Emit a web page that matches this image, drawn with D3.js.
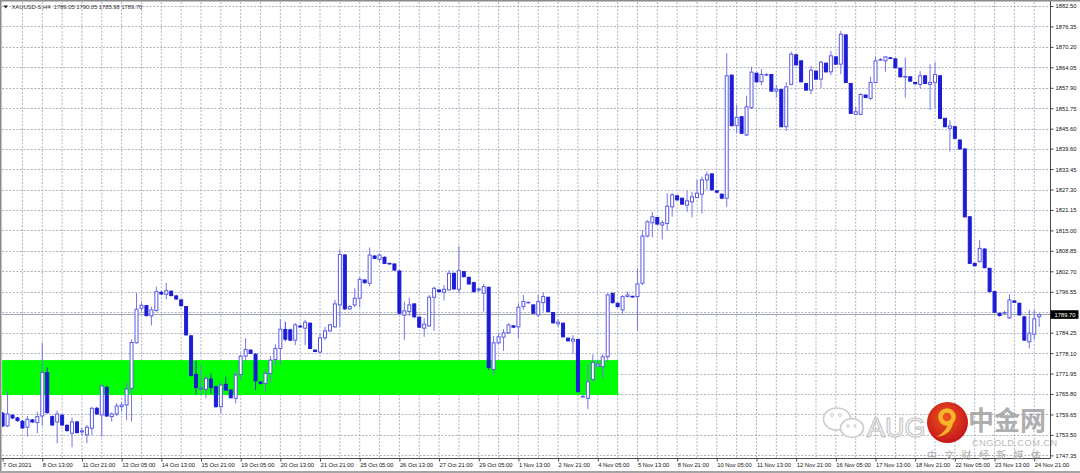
<!DOCTYPE html>
<html><head><meta charset="utf-8">
<script src="https://cdn.jsdelivr.net/npm/d3@7"></script>
<style>html,body{margin:0;padding:0;background:#fff;overflow:hidden}svg{display:block}</style>
</head><body>
<svg id="c" width="1080" height="473"></svg>
<script>
// ---------------- DATA ----------------
const symbolTitle = "XAUUSD-S,H4  1789.05 1790.05 1785.98 1789.70";
const timeLabels = ["7 Oct 2021","8 Oct 13:00","11 Oct 21:00","13 Oct 05:00","14 Oct 13:00","15 Oct 21:00","19 Oct 05:00","20 Oct 13:00","21 Oct 21:00","25 Oct 05:00","26 Oct 13:00","27 Oct 21:00","29 Oct 05:00","1 Nov 13:00","2 Nov 21:00","4 Nov 05:00","5 Nov 13:00","8 Nov 21:00","10 Nov 05:00","11 Nov 13:00","12 Nov 21:00","16 Nov 05:00","17 Nov 13:00","18 Nov 21:00","22 Nov 05:00","23 Nov 13:00","24 Nov 21:00"];
const barsPerLabel = 8;
const priceTicks = [1882.50,1876.35,1870.20,1864.05,1857.90,1851.75,1845.60,1839.60,1833.45,1827.30,1821.15,1815.00,1808.85,1802.70,1796.55,1790.40,1784.25,1778.10,1771.95,1765.80,1759.65,1753.50,1747.35];
const lastPrice = 1789.70;
const zoneBars = [0, 124.1];
const zonePrices = [1776.0, 1765.5];

const opens = [1760.0,1756.2,1759.4,1758.6,1757.6,1755.8,1758.0,1757.2,1759.2,1772.3,
1759.0,1757.4,1759.4,1756.4,1754.0,1757.4,1754.4,1753.5,1755.5,1761.5,
1759.5,1767.8,1759.0,1759.8,1762.0,1762.5,1767.5,1781.2,1791.6,1792.4,
1789.3,1790.9,1796.4,1795.8,1796.7,1795.3,1794.1,1792.1,1783.3,1771.7,
1767.3,1767.2,1770.3,1768.0,1762.0,1768.7,1767.0,1764.5,1771.7,1777.2,
1779.0,1777.8,1769.4,1769.0,1772.0,1776.2,1779.5,1785.2,1785.1,1782.0,
1786.2,1785.6,1787.1,1779.0,1778.4,1782.7,1784.8,1786.0,1792.6,1807.6,
1791.4,1792.6,1794.6,1800.1,1799.1,1807.3,1806.3,1806.9,1805.1,1804.9,
1802.8,1789.5,1790.6,1792.9,1788.9,1785.6,1786.3,1794.9,1797.1,1796.4,
1797.1,1802.1,1797.3,1802.6,1800.9,1799.3,1797.1,1796.1,1797.9,1773.2,
1781.2,1782.9,1784.2,1786.3,1786.0,1792.1,1793.3,1792.6,1789.6,1793.3,
1794.9,1790.3,1786.9,1787.1,1782.6,1781.7,1782.2,1764.9,1764.5,1770.2,
1774.2,1774.0,1777.0,1796.1,1793.1,1791.1,1795.1,1795.2,1795.1,1799.1,
1813.3,1817.3,1818.9,1816.6,1817.1,1822.1,1825.4,1824.7,1822.6,1823.6,
1824.9,1825.9,1830.2,1832.0,1826.9,1825.9,1824.7,1861.7,1846.5,1849.2,
1843.7,1851.9,1862.3,1859.7,1861.7,1861.9,1856.9,1857.4,1846.2,1858.9,
1867.8,1866.0,1859.2,1857.2,1862.9,1860.5,1865.3,1862.7,1867.2,1865.0,
1873.8,1859.2,1849.9,1849.9,1855.7,1854.7,1859.5,1866.3,1866.0,1866.9,
1866.6,1863.8,1861.1,1861.2,1859.5,1858.9,1861.5,1858.9,1859.5,1861.5,
1848.7,1845.7,1846.2,1842.2,1839.5,1819.1,1805.1,1805.6,1809.4,1803.6,
1796.6,1790.1,1790.2,1788.7,1793.8,1793.1,1789.0,1781.5,1783.8,1789.05];

const highs = [1760.4,1766.8,1759.8,1758.9,1758.0,1759.2,1758.3,1760.5,1781.2,1773.8,
1759.3,1760.8,1759.8,1756.6,1758.8,1757.7,1755.6,1756.5,1761.9,1761.9,
1769.0,1768.2,1760.2,1763.1,1763.5,1769.2,1782.2,1796.1,1793.3,1792.6,
1792.1,1798.1,1796.7,1799.2,1797.0,1795.5,1794.2,1792.3,1783.4,1775.8,
1774.5,1771.5,1772.0,1768.2,1769.5,1771.0,1767.2,1772.5,1777.7,1782.6,
1779.2,1778.0,1769.7,1773.2,1777.2,1780.8,1788.3,1787.5,1785.4,1787.2,
1786.6,1788.1,1787.3,1779.2,1784.1,1786.0,1786.9,1794.1,1809.3,1807.9,
1792.6,1797.6,1800.9,1800.2,1809.9,1807.5,1808.1,1807.2,1805.2,1805.1,
1803.0,1793.6,1794.8,1793.0,1789.0,1788.6,1795.6,1798.1,1797.2,1798.6,
1803.1,1802.3,1810.3,1802.8,1801.0,1799.5,1797.7,1798.9,1798.1,1783.2,
1784.2,1785.3,1787.1,1786.4,1793.1,1795.6,1793.6,1792.7,1795.6,1796.3,
1795.0,1790.5,1788.3,1787.2,1782.6,1783.5,1782.3,1766.0,1774.8,1777.7,
1776.0,1777.8,1796.1,1796.2,1793.2,1795.6,1796.6,1795.3,1803.6,1815.1,
1818.1,1820.6,1819.0,1818.1,1826.2,1826.2,1825.5,1824.8,1826.9,1826.6,
1830.2,1831.2,1832.7,1832.1,1827.0,1826.1,1868.3,1861.9,1852.7,1849.4,
1855.5,1864.2,1862.3,1863.5,1862.3,1862.0,1858.7,1857.5,1859.6,1868.8,
1867.9,1866.1,1859.3,1864.5,1863.1,1866.0,1865.4,1869.0,1867.5,1875.0,
1873.9,1859.3,1852.2,1856.3,1855.9,1861.2,1867.2,1866.9,1867.5,1867.2,
1866.7,1863.8,1867.0,1861.4,1859.6,1862.9,1861.7,1865.0,1865.6,1861.7,
1848.8,1848.2,1846.4,1842.3,1839.6,1819.3,1805.2,1812.1,1809.6,1803.7,
1796.8,1790.2,1790.8,1795.8,1793.9,1793.2,1789.3,1791.1,1791.1,1790.05];

const lows = [1755.9,1755.8,1758.3,1757.5,1755.3,1753.0,1757.1,1754.0,1756.2,1759.9,
1756.2,1751.0,1756.2,1754.5,1749.8,1753.9,1753.2,1751.0,1753.5,1759.5,
1753.0,1758.9,1757.5,1759.2,1760.5,1758.0,1757.5,1781.0,1790.6,1789.1,
1786.4,1790.6,1795.6,1794.3,1795.2,1794.1,1792.0,1783.3,1771.0,1765.5,
1765.5,1764.5,1766.0,1761.7,1760.0,1766.7,1764.4,1763.0,1770.0,1775.5,
1777.8,1767.0,1768.6,1766.5,1769.2,1774.5,1774.5,1781.7,1781.7,1780.5,
1785.7,1780.5,1779.3,1778.4,1778.0,1782.0,1784.5,1785.8,1786.0,1791.1,
1791.1,1791.9,1791.9,1799.0,1798.3,1806.4,1805.6,1804.9,1804.8,1802.8,
1789.9,1782.1,1789.3,1788.8,1785.7,1783.0,1786.0,1784.8,1796.3,1793.9,
1796.9,1797.2,1796.1,1800.8,1798.7,1796.3,1796.5,1790.6,1773.0,1771.5,
1780.8,1778.8,1783.9,1785.7,1782.6,1791.1,1793.0,1789.9,1789.0,1790.6,
1790.3,1787.0,1786.0,1782.8,1781.6,1777.8,1766.1,1764.8,1761.2,1769.5,
1773.8,1770.5,1775.5,1793.0,1791.8,1789.9,1794.9,1794.8,1784.8,1798.6,
1812.9,1812.9,1816.8,1812.3,1814.9,1819.1,1824.0,1822.8,1820.6,1818.9,
1824.7,1820.1,1827.2,1827.0,1826.3,1824.4,1822.1,1846.3,1844.2,1844.0,
1843.4,1851.5,1859.5,1858.7,1861.4,1856.8,1854.9,1846.0,1844.9,1858.7,
1864.6,1859.5,1857.1,1855.9,1860.4,1857.9,1862.5,1861.7,1864.8,1862.0,
1859.3,1850.0,1849.7,1849.7,1854.8,1854.2,1859.2,1866.0,1862.7,1866.6,
1863.8,1861.1,1854.9,1859.8,1859.0,1857.7,1859.0,1851.2,1851.7,1848.5,
1846.0,1838.7,1842.5,1839.3,1818.9,1804.9,1804.1,1805.4,1803.6,1796.3,
1790.2,1789.1,1789.9,1788.4,1793.2,1789.4,1781.9,1779.5,1782.1,1785.98];

const closes = [1756.2,1759.8,1758.6,1757.8,1755.6,1758.2,1757.4,1759.0,1772.3,1760.2,
1756.5,1759.8,1756.5,1754.8,1757.4,1754.2,1754.7,1755.8,1761.5,1759.8,
1768.2,1759.2,1759.8,1762.2,1762.5,1767.3,1781.3,1791.3,1792.5,1789.4,
1791.1,1796.6,1795.9,1796.9,1795.4,1794.4,1792.4,1783.6,1771.4,1767.8,
1767.6,1770.5,1767.8,1762.0,1768.5,1767.0,1764.7,1771.5,1777.2,1779.2,
1778.0,1769.8,1769.0,1772.0,1776.0,1779.5,1785.3,1782.3,1782.0,1786.6,
1786.0,1787.4,1779.5,1778.6,1782.7,1784.8,1786.6,1792.9,1807.8,1791.4,
1792.1,1794.6,1800.3,1799.3,1807.6,1806.6,1807.6,1805.1,1804.9,1803.1,
1790.1,1790.8,1792.6,1789.0,1785.9,1786.8,1794.9,1797.6,1796.6,1797.3,
1802.1,1797.4,1802.9,1801.1,1798.9,1796.6,1797.4,1798.1,1773.8,1781.2,
1783.0,1784.2,1786.6,1785.9,1791.9,1793.6,1793.4,1790.1,1793.6,1795.1,
1790.6,1787.2,1787.4,1783.0,1781.8,1782.3,1766.5,1765.1,1769.5,1775.3,
1774.8,1777.0,1795.6,1793.3,1792.1,1795.1,1795.6,1795.0,1798.9,1813.3,
1817.6,1819.1,1816.9,1817.3,1822.3,1825.7,1824.2,1822.9,1823.9,1825.1,
1826.2,1830.2,1831.7,1827.2,1826.5,1824.7,1861.5,1846.5,1849.0,1844.2,
1852.2,1862.6,1859.7,1861.9,1861.9,1856.9,1857.5,1846.2,1858.2,1868.0,
1864.8,1859.7,1857.2,1863.2,1860.5,1865.6,1862.7,1867.5,1865.0,1874.0,
1859.5,1850.2,1850.7,1855.9,1855.0,1859.5,1866.0,1866.4,1867.2,1866.7,
1863.9,1861.2,1861.3,1859.9,1859.1,1861.5,1859.2,1859.5,1861.9,1848.7,
1846.2,1846.4,1842.7,1839.5,1819.1,1805.1,1804.4,1809.6,1803.8,1796.6,
1790.4,1789.4,1790.3,1794.1,1793.4,1789.6,1782.0,1784.1,1788.4,1789.70];

// ---------------- DRAWING ----------------
const W = 1080, H = 473;
const plot = {left: 2, top: 2, right: 1050, bottom: 458};
const nBars = opens.length;
const candles = opens.map((o, i) => ({i, o, h: highs[i], l: lows[i], c: closes[i]}));

const x = d3.scaleLinear().domain([0, nBars - 1]).range([2.6, 1039.2]);
const y = d3.scaleLinear().domain([priceTicks[0], priceTicks[priceTicks.length - 1]]).range([5.99, 455.36]);

const FONT = "'Liberation Sans', Arial, sans-serif";
const svg = d3.select("#c").attr("font-family", FONT);
svg.append("rect").attr("width", W).attr("height", H).attr("fill", "#ffffff");

const defs = svg.append("defs");
defs.append("clipPath").attr("id", "plotclip")
  .append("rect").attr("x", plot.left).attr("y", plot.top)
  .attr("width", plot.right - plot.left).attr("height", plot.bottom - plot.top);

const gridColor = "#a3abbb";
const grid = svg.append("g").attr("clip-path", "url(#plotclip)")
  .attr("stroke", gridColor).attr("stroke-width", 0.9).attr("stroke-dasharray", "2,1.6");
grid.selectAll("line.h").data(priceTicks).join("line").attr("class", "h")
  .attr("x1", plot.left).attr("x2", plot.right)
  .attr("y1", d => Math.round(y(d)) + 0.5).attr("y2", d => Math.round(y(d)) + 0.5);
const gridBars = d3.range(4, nBars, 4);
grid.selectAll("line.v").data(gridBars).join("line").attr("class", "v")
  .attr("x1", d => x(d)).attr("x2", d => x(d))
  .attr("y1", plot.top).attr("y2", plot.bottom);

// green zone
svg.append("rect").attr("clip-path", "url(#plotclip)")
  .attr("x", x(zoneBars[0]) - 0.5).attr("width", x(zoneBars[1]) - x(zoneBars[0]) + 0.5)
  .attr("y", y(zonePrices[0])).attr("height", y(zonePrices[1]) - y(zonePrices[0]))
  .attr("fill", "#00ff00");

// current price line
svg.append("line").attr("x1", plot.left).attr("x2", plot.right)
  .attr("y1", y(lastPrice)).attr("y2", y(lastPrice))
  .attr("stroke", "#a2a6ae").attr("stroke-width", 1.1);

// candles
const upStroke = "#5a5ae4", upWick = "#7474ea", downFill = "#1c1cd6", downWick = "#3434da";
const bodyW = 3;
const cg = svg.append("g").attr("clip-path", "url(#plotclip)");
const cs = cg.selectAll("g.candle").data(candles).join("g").attr("class", "candle");
cs.append("line")
  .attr("x1", d => x(d.i)).attr("x2", d => x(d.i))
  .attr("y1", d => y(d.h)).attr("y2", d => y(d.l))
  .attr("stroke", d => d.c >= d.o ? upWick : downWick).attr("stroke-width", 1);
cs.append("rect")
  .attr("x", d => x(d.i) - bodyW / 2)
  .attr("width", bodyW)
  .attr("y", d => y(Math.max(d.o, d.c)))
  .attr("height", d => Math.max(0.6, Math.abs(y(d.o) - y(d.c))))
  .attr("fill", d => d.c >= d.o ? "#ffffff" : downFill)
  .attr("stroke", d => d.c >= d.o ? upStroke : downFill)
  .attr("stroke-width", 1);

// axes frame
svg.append("line").attr("x1", plot.right + 0.5).attr("x2", plot.right + 0.5)
  .attr("y1", 0).attr("y2", plot.bottom + 0.5).attr("stroke", "#4a4a4a").attr("stroke-width", 1);
svg.append("line").attr("x1", 0).attr("x2", plot.right + 0.5)
  .attr("y1", plot.bottom + 0.5).attr("y2", plot.bottom + 0.5).attr("stroke", "#4a4a4a").attr("stroke-width", 1);

// price axis
const yAxis = d3.axisRight(y).tickValues(priceTicks).tickSize(3).tickPadding(2)
  .tickFormat(d => d.toFixed(2));
const ya = svg.append("g").attr("transform", `translate(${plot.right + 0.5},0)`).call(yAxis);
ya.select(".domain").remove();
ya.selectAll(".tick line").attr("stroke", "#4a4a4a");
ya.selectAll(".tick text").attr("font-family", FONT).attr("font-size", 5.8).attr("fill", "#111")
  .attr("dy", "0.34em").attr("x", 5);
ya.selectAll(".tick").filter(d => Math.abs(d - lastPrice) < 1).select("text").remove();

// time axis
const labelBars = timeLabels.map((t, k) => k * barsPerLabel);
const xAxis = d3.axisBottom(x).tickValues(labelBars).tickSize(3).tickPadding(2)
  .tickFormat((d, k) => timeLabels[k]);
const xa = svg.append("g").attr("transform", `translate(0,${plot.bottom + 0.5})`).call(xAxis);
xa.select(".domain").remove();
xa.selectAll(".tick line").attr("stroke", "#4a4a4a");
xa.selectAll(".tick text").attr("font-family", FONT).attr("font-size", 5.8).attr("fill", "#111")
  .attr("text-anchor", "start").attr("x", 0).attr("y", 4).attr("dy", "0.71em");

// current price tag
const tagY = y(lastPrice);
svg.append("rect").attr("x", plot.right + 0.5).attr("y", tagY - 4.3).attr("width", 28).attr("height", 8.6).attr("fill", "#000");
svg.append("text").attr("x", plot.right + 4.5).attr("y", tagY).attr("dy", "0.35em")
  .attr("font-size", 5.8).attr("fill", "#fff").text(lastPrice.toFixed(2));

// title
svg.append("path").attr("d", "M3.5,5.5 L8,5.5 L5.75,8.5 Z").attr("fill", "#222");
svg.append("text").attr("x", 11.5).attr("y", 9).attr("font-size", 5.8).attr("fill", "#333")
  .attr("xml:space", "preserve").text(symbolTitle);

// window frame
svg.append("rect").attr("x", 0).attr("y", 0).attr("width", W).attr("height", 1.5).attr("fill", "#8a8a8a");
svg.append("rect").attr("x", 0).attr("y", 0).attr("width", 1.5).attr("height", H).attr("fill", "#8a8a8a");
svg.append("rect").attr("x", 0).attr("y", 471).attr("width", W).attr("height", 2).attr("fill", "#a4a4a4");

// watermark
const wm = svg.append("g");
const wc = wm.append("g").attr("fill", "#ffffff").attr("stroke", "#c8c8c8").attr("stroke-width", 1.6).attr("opacity", 0.9);
wc.append("ellipse").attr("cx", 837).attr("cy", 419).attr("rx", 13.5).attr("ry", 11);
wc.append("ellipse").attr("cx", 852).attr("cy", 428).attr("rx", 11.5).attr("ry", 9.5);
wc.append("circle").attr("cx", 832).attr("cy", 415).attr("r", 1.5).attr("stroke-width", 1);
wc.append("circle").attr("cx", 840).attr("cy", 415).attr("r", 1.5).attr("stroke-width", 1);
wc.append("circle").attr("cx", 848).attr("cy", 426).attr("r", 1.2).attr("stroke-width", 1);
wc.append("circle").attr("cx", 855).attr("cy", 426).attr("r", 1.2).attr("stroke-width", 1);
wm.append("text").attr("x", 867).attr("y", 437).attr("font-size", 27).attr("font-family", FONT)
  .attr("fill", "#ffffff").attr("stroke", "#c2c2c2").attr("stroke-width", 1.1).text("AUG");
const grad = defs.append("radialGradient").attr("id", "logoGrad").attr("cx", "45%").attr("cy", "40%").attr("r", "60%");
grad.append("stop").attr("offset", "0%").attr("stop-color", "#f0561e");
grad.append("stop").attr("offset", "100%").attr("stop-color", "#c4161a");
wm.append("circle").attr("cx", 947.5).attr("cy", 422.5).attr("r", 20.5).attr("fill", "url(#logoGrad)");
wm.append("circle").attr("cx", 947).attr("cy", 417).attr("r", 6.5).attr("fill", "none").attr("stroke", "#f7b52a").attr("stroke-width", 4.5);
wm.append("path").attr("d", "M953,419 C954,429 947,436 936,437 C944,433 948,428 949,420 Z").attr("fill", "#f7b52a");
wm.append("text").attr("x", 968).attr("y", 430).attr("font-size", 26).attr("font-weight", "bold")
  .attr("font-family", "'Noto Sans CJK SC', sans-serif").attr("fill", "#9a9a9a").attr("opacity", 0.8).text("中金网");
wm.append("text").attr("x", 972).attr("y", 445.5).attr("font-size", 9.2).attr("font-family", FONT)
  .attr("fill", "#b8b8b8").attr("letter-spacing", 0.5).text("CNGOLD.COM.CN");
wm.append("text").attr("x", 927).attr("y", 459).attr("font-size", 10).attr("font-family", "'Noto Sans CJK SC', sans-serif")
  .attr("fill", "#acacac").attr("letter-spacing", 7.3).text("中文财经新媒体");
</script>
</body></html>
